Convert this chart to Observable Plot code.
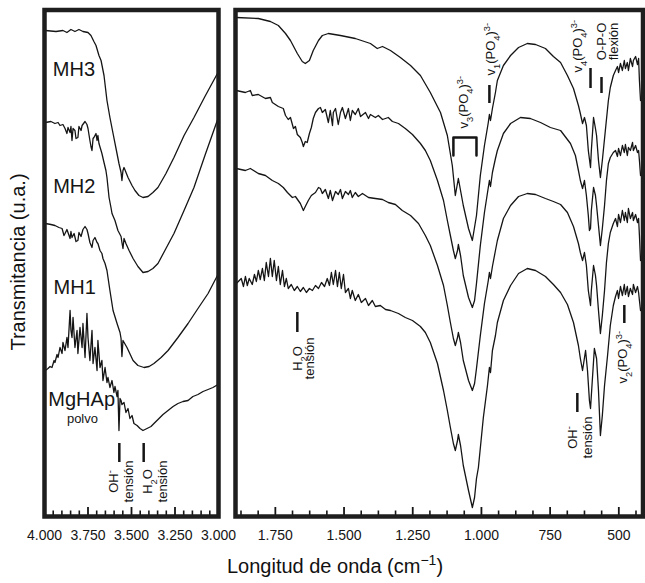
<!DOCTYPE html>
<html><head><meta charset="utf-8">
<script src="https://cdn.jsdelivr.net/npm/d3@7"></script>
<script src="https://cdn.jsdelivr.net/npm/@observablehq/plot@0.6"></script>
<style>
body{margin:0;background:#fff;}
#fig{position:relative;width:645px;height:583px;font-family:"Liberation Sans",Arial,Helvetica,sans-serif;color:#111;overflow:hidden;}
#fig svg{position:absolute;top:0;overflow:visible;}
#ylab{position:absolute;left:18px;top:262px;transform:translate(-50%,-50%) rotate(-90deg);font-size:20px;white-space:nowrap;}
#xlab{position:absolute;left:335px;top:566px;transform:translate(-50%,-50%);font-size:20px;white-space:nowrap;line-height:20px;}
#xlab sup{font-size:14px;vertical-align:8px;line-height:0;}
</style></head><body>
<div id="fig"><div id="ylab">Transmitancia (u.a.)</div><div id="xlab">Longitud de onda (cm<sup>−1</sup>)</div></div>
<script>
// ---- data: [wavenumber (cm-1), transmittance (u.a.)] ----
const samples = ["MH3", "MH2", "MH1", "MgHAp"];

const leftMH3 = [[3995,48.8],[3934,48.7],[3894,48.8],[3871,48.6],[3848,48.9],[3825,48.7],[3802,48.9],[3779,48.7],[3750,48.6],[3733,48.3],[3716,47.7],[3704,47.3],[3687,46.3],[3675,45.8],[3658,44.3],[3641,41.8],[3624,40.1],[3606,38.5],[3589,37.0],[3572,35.5],[3560,34.6],[3555,33.8],[3549,34.8],[3543,35.1],[3520,34.1],[3497,33.3],[3480,32.8],[3457,32.3],[3434,32.1],[3405,32.2],[3377,32.6],[3348,33.1],[3302,34.5],[3256,36.1],[3198,38.3],[3141,40.1],[3078,42.2],[3003,44.6]];

const leftMH2 = [[3995,39.6],[3963,39.7],[3940,39.5],[3922,39.6],[3911,39.3],[3894,39.4],[3882,39.0],[3871,38.5],[3865,39.1],[3853,38.6],[3848,39.2],[3842,37.8],[3836,39.0],[3825,38.8],[3819,38.0],[3808,38.1],[3802,39.2],[3790,38.8],[3784,39.3],[3767,39.7],[3756,39.4],[3750,39.0],[3739,37.8],[3733,37.2],[3727,36.8],[3721,38.0],[3716,38.1],[3704,38.5],[3698,37.8],[3693,38.3],[3687,37.5],[3675,36.8],[3670,36.5],[3658,35.6],[3647,34.8],[3641,34.1],[3629,32.1],[3618,31.1],[3612,30.5],[3595,29.8],[3578,28.8],[3560,28.2],[3555,27.6],[3549,27.0],[3543,28.0],[3532,27.5],[3514,26.8],[3491,26.0],[3463,25.2],[3434,24.6],[3405,24.7],[3377,25.0],[3348,25.5],[3302,27.0],[3256,28.5],[3198,30.8],[3141,33.1],[3078,36.3],[3003,40.0]];

const leftMH1 = [[3995,29.5],[3963,29.4],[3940,29.3],[3917,29.1],[3899,29.0],[3888,28.3],[3882,28.5],[3871,28.9],[3865,28.6],[3853,28.0],[3848,28.7],[3842,28.1],[3830,28.5],[3819,27.7],[3808,27.8],[3802,28.6],[3790,28.2],[3779,28.9],[3767,29.2],[3756,28.9],[3750,28.5],[3739,27.6],[3727,27.1],[3721,27.8],[3710,28.1],[3698,27.6],[3693,27.5],[3681,26.8],[3670,26.5],[3664,26.0],[3652,25.5],[3641,24.8],[3624,22.8],[3606,20.8],[3583,19.5],[3566,18.6],[3560,18.0],[3555,16.2],[3549,17.8],[3526,17.1],[3491,15.8],[3463,15.3],[3428,15.1],[3399,15.2],[3371,15.5],[3330,16.1],[3290,16.8],[3233,18.1],[3175,19.5],[3118,21.0],[3060,22.5],[3003,24.4]];

const leftMgHAp = [[3995,14.8],[3980,15.0],[3968,15.2],[3957,15.1],[3945,15.8],[3940,15.6],[3928,16.4],[3922,16.1],[3911,17.1],[3899,16.5],[3894,17.6],[3882,16.8],[3871,18.1],[3865,17.1],[3853,20.8],[3848,18.8],[3842,18.1],[3836,20.1],[3825,17.1],[3813,18.8],[3808,16.5],[3796,19.1],[3784,17.1],[3779,19.5],[3767,16.1],[3756,20.5],[3750,18.1],[3739,15.8],[3727,18.8],[3721,15.5],[3710,17.1],[3698,14.8],[3693,17.8],[3681,15.1],[3670,15.8],[3664,13.8],[3652,15.1],[3641,13.6],[3635,14.1],[3624,13.1],[3612,13.8],[3601,12.6],[3595,13.2],[3583,12.2],[3578,12.8],[3572,8.8],[3566,12.0],[3560,11.8],[3555,11.4],[3543,11.6],[3532,10.6],[3520,11.0],[3509,10.0],[3497,10.3],[3486,9.5],[3468,9.3],[3451,9.0],[3434,8.8],[3411,9.0],[3388,9.2],[3371,9.5],[3342,10.0],[3319,10.4],[3290,10.8],[3261,11.2],[3233,11.5],[3204,11.7],[3175,11.8],[3147,12.2],[3118,12.4],[3089,12.7],[3060,12.9],[3032,13.1],[3003,13.4]];

const rightMH3 = [[1892,50.1],[1812,50.0],[1768,49.7],[1739,49.3],[1713,48.5],[1695,47.8],[1670,46.5],[1652,45.7],[1641,45.5],[1626,45.8],[1612,46.8],[1593,47.8],[1579,48.3],[1557,48.5],[1513,48.3],[1459,48.0],[1404,47.5],[1379,47.0],[1360,47.2],[1331,46.8],[1295,46.1],[1258,45.3],[1222,44.3],[1186,42.6],[1149,40.6],[1124,38.3],[1106,35.3],[1095,32.3],[1084,34.0],[1066,31.3],[1047,29.0],[1033,27.8],[1018,30.3],[1004,34.3],[989,37.3],[975,39.6],[971,40.4],[967,39.8],[960,41.0],[949,42.6],[942,43.8],[920,45.3],[894,46.3],[865,47.1],[833,47.5],[803,47.4],[767,47.0],[738,46.2],[712,45.6],[687,44.3],[665,43.0],[647,41.3],[640,40.5],[632,39.5],[625,40.1],[618,39.3],[611,36.8],[603,35.1],[600,36.8],[592,40.1],[585,39.0],[581,38.3],[574,35.8],[567,34.1],[560,35.8],[549,38.8],[538,41.8],[531,43.1],[520,44.3],[512,44.8],[505,45.2],[501,44.6],[494,45.5],[487,44.8],[480,45.8],[476,45.0],[469,45.6],[465,44.8],[458,46.0],[450,45.2],[447,45.8],[439,46.2],[432,45.4],[428,46.0],[425,43.8],[421,41.8]];

const rightMH2 = [[1892,42.8],[1859,42.6],[1841,42.8],[1834,42.3],[1812,42.4],[1786,42.0],[1768,42.1],[1761,41.6],[1739,41.2],[1721,41.0],[1713,40.3],[1703,39.9],[1695,40.1],[1684,39.0],[1677,39.2],[1670,38.4],[1659,38.1],[1652,37.6],[1648,37.2],[1641,37.7],[1634,37.6],[1626,38.5],[1619,39.1],[1612,40.0],[1604,40.6],[1593,41.0],[1586,41.1],[1579,40.6],[1568,40.9],[1557,39.6],[1550,40.8],[1542,39.3],[1539,40.6],[1531,41.0],[1521,39.4],[1513,40.6],[1506,41.1],[1495,40.0],[1484,41.0],[1477,39.8],[1470,40.8],[1459,40.4],[1448,41.0],[1440,40.2],[1422,40.6],[1411,40.0],[1404,40.4],[1386,40.1],[1375,40.3],[1360,39.9],[1339,40.1],[1324,39.7],[1302,39.5],[1277,39.0],[1251,38.4],[1222,37.5],[1204,36.8],[1186,35.8],[1160,33.8],[1138,31.8],[1124,29.8],[1113,28.3],[1102,26.8],[1095,26.0],[1087,26.8],[1084,27.4],[1076,26.3],[1066,24.3],[1047,22.1],[1033,21.1],[1025,21.8],[1018,23.5],[1004,27.3],[989,30.6],[975,33.1],[971,33.8],[967,33.2],[960,34.6],[949,36.0],[942,36.8],[920,38.5],[894,39.5],[858,40.1],[822,40.0],[785,39.6],[749,39.1],[712,38.8],[676,37.5],[658,36.3],[647,34.8],[640,33.8],[632,33.0],[625,33.8],[618,32.3],[611,30.3],[607,28.8],[603,29.0],[600,30.8],[592,33.1],[585,32.3],[581,31.3],[574,29.3],[567,27.3],[560,29.0],[552,31.3],[545,33.8],[538,35.5],[531,36.1],[520,36.6],[512,36.8],[505,36.2],[501,37.0],[494,36.3],[487,37.3],[480,36.6],[476,37.4],[469,36.3],[465,37.1],[458,36.8],[450,37.6],[447,36.8],[439,37.3],[432,36.6],[428,36.8],[425,35.8],[421,34.3]];

const rightMH1 = [[1892,35.0],[1859,34.8],[1841,35.0],[1812,34.5],[1786,34.3],[1761,33.8],[1739,33.5],[1721,33.1],[1706,32.6],[1688,32.1],[1677,32.2],[1659,31.5],[1648,30.8],[1641,31.2],[1630,31.8],[1619,32.3],[1604,32.6],[1593,33.1],[1586,33.0],[1579,32.5],[1568,32.9],[1557,32.0],[1550,32.8],[1542,31.8],[1531,32.7],[1521,32.4],[1513,32.9],[1506,32.0],[1495,32.7],[1484,32.4],[1477,32.8],[1470,32.1],[1459,32.6],[1448,32.2],[1433,32.5],[1411,32.1],[1386,32.0],[1360,31.9],[1339,31.6],[1313,31.4],[1288,30.8],[1258,30.3],[1229,29.5],[1204,28.3],[1186,27.3],[1160,25.3],[1138,23.3],[1124,21.3],[1113,19.6],[1102,18.0],[1095,17.3],[1087,18.1],[1084,18.6],[1076,17.6],[1066,15.8],[1047,13.8],[1033,12.8],[1025,13.5],[1018,15.0],[1004,18.3],[989,21.5],[975,23.8],[971,24.6],[967,24.0],[960,25.2],[949,26.8],[942,27.8],[920,30.0],[894,31.3],[865,32.2],[833,32.5],[803,32.4],[767,32.0],[738,31.7],[712,31.4],[687,30.6],[665,29.2],[647,27.5],[640,26.6],[632,25.8],[625,26.6],[618,25.3],[611,22.8],[603,21.3],[600,22.8],[592,25.3],[585,24.3],[581,23.3],[574,20.8],[567,18.5],[560,20.3],[552,22.8],[545,25.6],[538,27.5],[531,28.6],[520,29.5],[512,30.0],[505,29.2],[501,30.4],[494,29.6],[487,30.8],[480,29.8],[476,30.6],[469,29.6],[465,31.0],[458,30.0],[450,30.6],[447,29.8],[439,30.4],[432,29.6],[428,30.0],[425,28.3],[421,25.8]];

const rightMgHAp = [[1892,23.5],[1874,24.0],[1866,23.2],[1859,24.2],[1852,23.3],[1845,24.0],[1834,23.4],[1826,24.4],[1819,23.7],[1812,24.8],[1805,23.9],[1797,25.0],[1790,23.8],[1783,25.6],[1775,24.2],[1768,26.0],[1761,24.2],[1754,25.8],[1746,23.8],[1739,25.2],[1732,23.4],[1724,24.8],[1717,23.2],[1710,24.0],[1703,23.0],[1692,23.4],[1681,22.8],[1670,23.2],[1659,22.7],[1648,23.1],[1637,22.6],[1626,23.0],[1615,22.8],[1604,23.3],[1593,23.0],[1582,23.6],[1571,23.2],[1561,24.0],[1553,23.3],[1546,24.6],[1539,23.4],[1531,24.8],[1524,23.2],[1517,24.6],[1510,23.0],[1502,24.4],[1495,22.6],[1484,23.0],[1477,22.0],[1470,22.8],[1459,21.8],[1448,22.4],[1437,21.6],[1422,22.0],[1411,21.3],[1397,21.8],[1386,21.2],[1368,21.3],[1349,20.9],[1331,20.8],[1302,20.5],[1277,20.1],[1251,19.8],[1222,19.2],[1204,18.6],[1186,17.6],[1160,15.5],[1138,12.8],[1124,10.8],[1113,9.1],[1102,7.5],[1095,6.8],[1087,7.8],[1084,8.4],[1076,7.3],[1066,5.3],[1047,2.8],[1033,1.1],[1025,2.1],[1018,4.0],[1011,5.1],[993,10.1],[978,13.3],[971,15.1],[967,14.6],[960,16.8],[949,18.3],[942,19.6],[920,21.8],[894,23.3],[865,24.5],[833,25.0],[803,24.8],[767,24.2],[738,23.4],[712,22.6],[687,21.4],[665,19.6],[647,17.3],[640,16.0],[632,14.8],[621,16.8],[614,14.8],[607,11.8],[603,11.0],[600,12.3],[589,17.0],[581,16.0],[574,12.8],[567,8.3],[560,10.3],[552,13.3],[541,16.3],[531,19.3],[520,21.3],[512,22.2],[505,22.8],[501,22.0],[494,23.2],[487,22.3],[480,23.4],[476,22.4],[469,23.2],[465,22.2],[458,23.0],[450,22.4],[447,23.4],[439,22.6],[432,23.2],[428,22.6],[425,21.8],[421,20.8]];

// ---- ticks ----
const leftMajorTicks = [4000, 3750, 3500, 3250, 3000];
const leftMinorTicks = [3950,3900,3850,3800,3700,3650,3600,3550,3450,3400,3350,3300,3200,3150,3100,3050];
const rightMajorTicks = [1750, 1500, 1250, 1000, 750, 500];
const rightMinorTicks = [1875,1812.5,1687.5,1625,1562.5,1437.5,1375,1312.5,1187.5,1125,1062.5,937.5,875,812.5,687.5,625,562.5,437.5];

// ---- labels & band annotations ----
const sampleLabels = [
  {text: "MH3", wn: 3952, t: 44.3},
  {text: "MH2", wn: 3950, t: 32.6},
  {text: "MH1", wn: 3948, t: 22.5},
  {text: "MgHAp", wn: 3978, t: 11.3}
];
const subLabels = [{text: "polvo", wn: 3782, t: 9.6}];
const leftBandTicks = [{wn: 3570, t1: 5.6, t2: 7.5}, {wn: 3430, t1: 5.6, t2: 7.5}];
const leftBandNotes = [{text: "OH^{-}\ntensión", wn: 3562, t: 3.7}, {text: "H_{2}O\ntensión", wn: 3367, t: 3.7}];

const rightBandTicks = [
  {wn: 971, t1: 41.5, t2: 43.3},
  {wn: 603, t1: 43.0, t2: 45.0},
  {wn: 563, t1: 42.5, t2: 44.1},
  {wn: 1670, t1: 18.6, t2: 20.6},
  {wn: 651, t1: 10.6, t2: 12.5},
  {wn: 480, t1: 19.5, t2: 21.3}
];
const v3Bracket = [[1102, 36.3], [1102, 38.1], [1018, 38.1], [1018, 36.3]];
const rightBandLabels = [
  {text: "v_{3}(PO_{4})^{3-}", wn: 1064, t: 39.0},
  {text: "v_{1}(PO_{4})^{3-}", wn: 967, t: 44.3},
  {text: "v_{4}(PO_{4})^{3-}", wn: 650, t: 44.6},
  {text: "v_{2}(PO_{4})^{3-}", wn: 485, t: 13.5}
];
const rightNotesWide = [{text: "OH^{-}\ntensión", wn: 641, t: 8.1}];
const rightNotesTight = [{text: "H_{2}O\ntensión", wn: 1644, t: 16.0}, {text: "O-P-O\nflexión", wn: 538, t: 47.7}];

// ---- helpers ----
const rows = (series) => series.flatMap((s, i) => s.map(([wn, t]) => ({wn, t, sample: samples[i]})));
const fmt = d3.formatLocale({decimal: ",", thousands: ".", grouping: [3], currency: ["", ""]}).format(",");
const FONT = '"Liberation Sans", Arial, Helvetica, sans-serif';
const INK = "#151515";
const H = 550, MT = 9.5, MB = 34;
const plotH = H - MT - MB;
const yDomain = [0.2, 50.85];

function richify(svg) {
  svg.querySelectorAll("text, tspan").forEach(el => {
    if (el.children.length) return;
    const s = el.textContent;
    if (!/[_^]\{/.test(s)) return;
    el.textContent = "";
    const re = /_\{([^}]*)\}|\^\{([^}]*)\}/g;
    let last = 0, m;
    while ((m = re.exec(s))) {
      if (m.index > last) el.appendChild(document.createTextNode(s.slice(last, m.index)));
      const t = document.createElementNS("http://www.w3.org/2000/svg", "tspan");
      const sub = m[1] !== undefined;
      t.textContent = sub ? m[1] : m[2];
      t.setAttribute("font-size", "72%");
      t.setAttribute("baseline-shift", sub ? "sub" : "super");
      el.appendChild(t);
      last = re.lastIndex;
    }
    if (last < s.length) el.appendChild(document.createTextNode(s.slice(last)));
  });
}

function axisMarks(major, minor) {
  return [
    Plot.tickX(minor, {x: d => d, stroke: INK, strokeWidth: 1.6, insetTop: plotH - 5.5}),
    Plot.tickX(major, {x: d => d, stroke: INK, strokeWidth: 1.8, insetTop: plotH - 9}),
    Plot.axisX(major, {tickSize: 0, tickPadding: 14, tickFormat: fmt, fontSize: 14, label: null, fill: INK})
  ];
}

const noteStyle = {fontSize: 13, fill: INK, rotate: -90};

const left = Plot.plot({
  width: 235, height: H,
  marginLeft: 44, marginRight: 17, marginTop: MT, marginBottom: MB,
  x: {domain: [4000, 3000]},
  y: {domain: yDomain, axis: null},
  style: {fontFamily: FONT, background: "transparent", overflow: "visible", color: INK},
  marks: [
    Plot.line(rows([leftMH3, leftMH2, leftMH1, leftMgHAp]), {x: "wn", y: "t", z: "sample", stroke: INK, strokeWidth: 1.3, clip: true}),
    ...axisMarks(leftMajorTicks, leftMinorTicks),
    Plot.text(sampleLabels, {x: "wn", y: "t", text: "text", textAnchor: "start", lineAnchor: "bottom", fontSize: 20, fill: INK}),
    Plot.text(subLabels, {x: "wn", y: "t", text: "text", textAnchor: "middle", lineAnchor: "bottom", fontSize: 13, fill: INK}),
    Plot.ruleX(leftBandTicks, {x: "wn", y1: "t1", y2: "t2", stroke: INK, strokeWidth: 2.5}),
    Plot.text(leftBandNotes, {x: "wn", y: "t", text: "text", textAnchor: "middle", lineAnchor: "middle", lineHeight: 1.15, ...noteStyle}),
    Plot.frame({stroke: "#1e1e1e", strokeWidth: 4.5})
  ]
});
left.style.left = "0px";

const right = Plot.plot({
  width: 413, height: H,
  marginLeft: 3, marginRight: 2.5, marginTop: MT, marginBottom: MB,
  x: {domain: [1895, 412]},
  y: {domain: yDomain, axis: null},
  style: {fontFamily: FONT, background: "transparent", overflow: "visible", color: INK},
  marks: [
    Plot.line(rows([rightMH3, rightMH2, rightMH1, rightMgHAp]), {x: "wn", y: "t", z: "sample", stroke: INK, strokeWidth: 1.3, clip: true}),
    ...axisMarks(rightMajorTicks, rightMinorTicks),
    Plot.ruleX(rightBandTicks, {x: "wn", y1: "t1", y2: "t2", stroke: INK, strokeWidth: 2.5}),
    Plot.line(v3Bracket, {x: d => d[0], y: d => d[1], stroke: INK, strokeWidth: 2.5}),
    Plot.text(rightBandLabels, {x: "wn", y: "t", text: "text", textAnchor: "start", lineAnchor: "middle", ...noteStyle}),
    Plot.text(rightNotesWide, {x: "wn", y: "t", text: "text", textAnchor: "middle", lineAnchor: "middle", lineHeight: 1.15, ...noteStyle}),
    Plot.text(rightNotesTight, {x: "wn", y: "t", text: "text", textAnchor: "middle", lineAnchor: "middle", lineHeight: 0.92, ...noteStyle}),
    Plot.frame({stroke: "#1e1e1e", strokeWidth: 4.5})
  ]
});
right.style.left = "232px";

richify(left);
richify(right);
const fig = document.getElementById("fig");
fig.insertBefore(right, fig.firstChild);
fig.insertBefore(left, fig.firstChild);
</script>
</body></html>
